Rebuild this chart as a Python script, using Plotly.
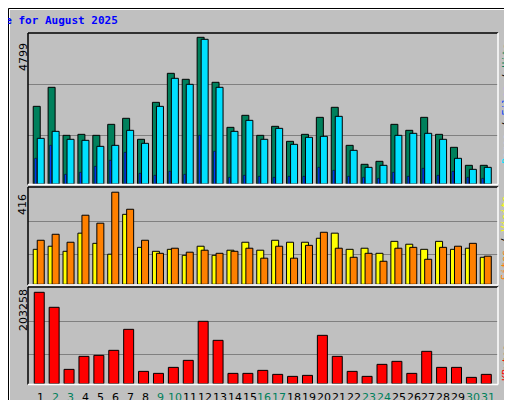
import plotly.graph_objects as go

days = list(range(1, 32))
weekend_days = [2, 3, 9, 10, 16, 17, 23, 24, 30, 31]

hits = [2541, 3163, 1592, 1625, 1592, 1952, 2149, 1462, 2672, 3621, 3425, 4799, 3327, 1854, 2247, 1592,
        1887, 1396, 1625, 2181, 2509, 1265, 644, 742, 1952, 1756, 2181, 1625, 1200, 611, 611]
files = [1494, 1723, 1462, 1429, 1232, 1265, 1756, 1331, 2541, 3458, 3261, 4734, 3163, 1723, 2083, 1462,
         1821, 1298, 1527, 1560, 2214, 1102, 545, 611, 1592, 1658, 1658, 1462, 840, 480, 545]
pages = [840, 1265, 316, 382, 578, 774, 1036, 349, 284, 414, 316, 1592, 1069, 218, 284, 251,
         218, 251, 251, 545, 447, 251, 218, 185, 382, 251, 513, 284, 414, 218, 185]
sites = [158, 172, 149, 231, 185, 136, 316, 167, 149, 158, 131, 172, 131, 154, 190, 154,
         199, 190, 190, 208, 231, 158, 163, 140, 194, 181, 158, 194, 158, 163, 122]
visits = [199, 226, 190, 312, 276, 416, 339, 199, 140, 163, 145, 154, 140, 149, 163, 118,
          172, 118, 176, 235, 163, 122, 140, 104, 163, 167, 113, 167, 172, 185, 127]
kbytes = [203258, 169872, 31897, 60828, 63053, 74180, 120913, 27447, 22996, 36348, 51926, 138717, 96434,
          22996, 22996, 29672, 20770, 16320, 18545, 107561, 60828, 27447, 16320, 43024, 49701, 22996,
          71955, 36348, 36348, 14094, 20770]

W, H = 512, 400
BG = "#c0c0c0"


def px(x):
    return x / W


def py(y):
    return 1 - y / H


fig = go.Figure()

# top panel
fig.add_trace(go.Bar(x=days, y=hits, width=0.47, offset=-0.52, marker=dict(color="#00805c", line=dict(color="black", width=1)), xaxis="x", yaxis="y"))
fig.add_trace(go.Bar(x=days, y=files, width=0.47, offset=-0.25, marker=dict(color="#00e0ff", line=dict(color="black", width=1)), xaxis="x", yaxis="y"))
fig.add_trace(go.Bar(x=days, y=pages, width=0.13, offset=-0.42, marker=dict(color="#0040ff", line=dict(color="black", width=0.5)), xaxis="x", yaxis="y"))
# middle panel
fig.add_trace(go.Bar(x=days, y=sites, width=0.47, offset=-0.52, marker=dict(color="#ffff00", line=dict(color="black", width=1)), xaxis="x2", yaxis="y2"))
fig.add_trace(go.Bar(x=days, y=visits, width=0.47, offset=-0.25, marker=dict(color="#ff8000", line=dict(color="black", width=1)), xaxis="x2", yaxis="y2"))
# bottom panel
fig.add_trace(go.Bar(x=days, y=kbytes, width=0.67, offset=-0.45, marker=dict(color="#ff0000", line=dict(color="black", width=1)), xaxis="x3", yaxis="y3"))

xdom = [px(20), px(490)]
xr = [0.13, 31.67]

common_x = dict(range=xr, domain=xdom, showgrid=False, zeroline=False, showline=False,
                showticklabels=False, ticks="", automargin=False)
common_y = dict(showgrid=True, gridcolor="#808080", gridwidth=1, zeroline=False,
                showticklabels=False, ticks="", automargin=False)

fig.update_layout(
    width=W, height=H, margin=dict(l=0, r=0, t=0, b=0, autoexpand=False),
    paper_bgcolor=BG, plot_bgcolor=BG, showlegend=False, barmode="overlay",
    xaxis=dict(common_x, anchor="y"),
    xaxis2=dict(common_x, anchor="y2"),
    xaxis3=dict(common_x, anchor="y3"),
    yaxis=dict(common_y, anchor="x", domain=[py(176), py(25)], range=[0, 4940],
               tickvals=[1600, 3250]),
    yaxis2=dict(common_y, anchor="x2", domain=[py(276.3), py(180)], range=[0, 435],
                tickvals=[136, 285]),
    yaxis3=dict(common_y, anchor="x3", domain=[py(375.7), py(280.3)], range=[0, 212158],
                tickvals=[65278, 138717]),
    font=dict(family="DejaVu Sans"),
)

shapes = []
# outer frame
shapes.append(dict(type="rect", xref="paper", yref="paper", x0=px(0.5), x1=px(511.5), y0=py(399.5), y1=py(0.5), line=dict(color="black", width=1), layer="below"))
shapes.append(dict(type="rect", xref="paper", yref="paper", x0=px(504), x1=px(510), y0=py(398), y1=py(4), fillcolor="#808080", line=dict(width=0), layer="below"))
shapes.append(dict(type="rect", xref="paper", yref="paper", x0=px(4), x1=px(510), y0=py(398), y1=py(393), fillcolor="#808080", line=dict(width=0), layer="below"))
shapes.append(dict(type="line", xref="paper", yref="paper", x0=px(1.5), x1=px(503), y0=py(1.5), y1=py(1.5), line=dict(color="white", width=1)))
shapes.append(dict(type="line", xref="paper", yref="paper", x0=px(1.5), x1=px(1.5), y0=py(1.5), y1=py(392), line=dict(color="white", width=1)))
# panel borders
for top, bot in [(25, 176.5), (179, 277), (279, 376.5)]:
    shapes.append(dict(type="line", xref="paper", yref="paper", x0=xdom[0], x1=xdom[1], y0=py(top), y1=py(top), line=dict(color="black", width=1.5)))
    shapes.append(dict(type="line", xref="paper", yref="paper", x0=xdom[0], x1=xdom[0], y0=py(top), y1=py(bot), line=dict(color="black", width=1.5)))
    shapes.append(dict(type="line", xref="paper", yref="paper", x0=xdom[1], x1=xdom[1], y0=py(top), y1=py(bot), line=dict(color="white", width=1.5)))
    shapes.append(dict(type="line", xref="paper", yref="paper", x0=xdom[0], x1=xdom[1], y0=py(bot), y1=py(bot), line=dict(color="white", width=1.5)))
fig.update_layout(shapes=shapes)

mono = "DejaVu Sans Mono"
ann = [
    dict(text="<b>Daily usage for August 2025</b>", x=px(20), y=py(13), xanchor="left", yanchor="middle",
         font=dict(family=mono, size=11, color="#0000ff")),
    dict(text="4799", x=px(15), y=py(49), textangle=-90,
         font=dict(size=11, color="black")),
    dict(text="416", x=px(15), y=py(197), textangle=-90,
         font=dict(size=11, color="black")),
    dict(text="203258", x=px(15), y=py(302), textangle=-90,
         font=dict(size=11, color="black")),
    dict(text="<span style='color:#00e0ff'>Pages</span> / <span style='color:#0040ff'>Files</span> / <span style='color:#00805c'>Hits</span>",
         x=px(498), y=py(96), textangle=-90, font=dict(family=mono, size=10, color="black")),
    dict(text="<span style='color:#ff8000'>Sites</span> / <span style='color:#ffff00'>Visits</span>",
         x=px(498), y=py(230), textangle=-90, font=dict(family=mono, size=10, color="black")),
    dict(text="KBytes", x=px(498), y=py(355), textangle=-90,
         font=dict(family=mono, size=10, color="#ff0000")),
]
for a in ann:
    a.update(xref="paper", yref="paper", showarrow=False, xanchor="center", yanchor="middle")
for d in days:
    ann.append(dict(text=str(d), x=d, xref="x3", y=py(389), yref="paper", showarrow=False,
                    xanchor="center", yanchor="middle",
                    font=dict(family="DejaVu Sans", size=11,
                              color="#00805c" if d in weekend_days else "black")))
fig.update_layout(annotations=ann)

fig.write_html("out.html")
